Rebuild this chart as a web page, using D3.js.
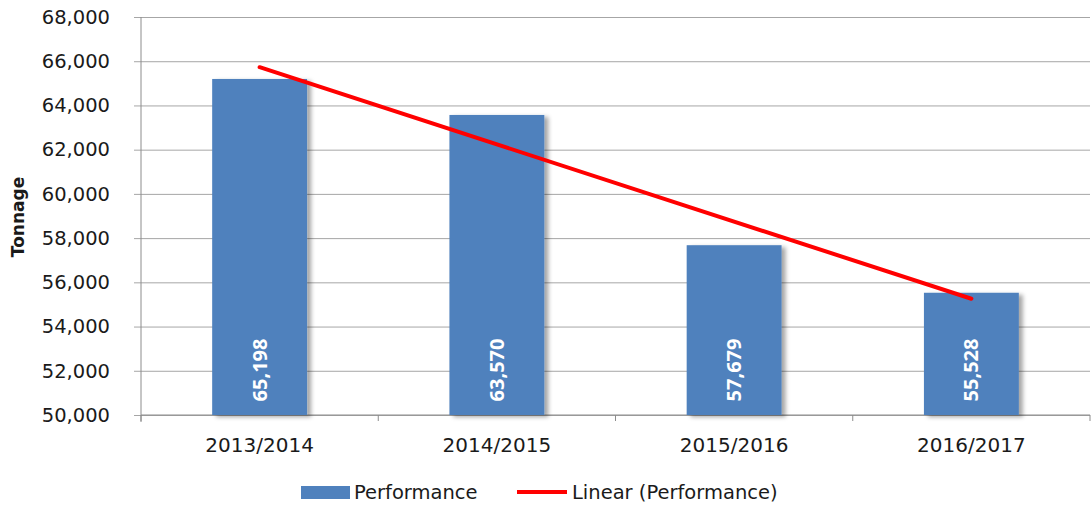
<!DOCTYPE html>
<html>
<head>
<meta charset="utf-8">
<script src="https://cdn.jsdelivr.net/npm/d3@7"></script>
<style>
  body { margin: 0; background: #fff; }
  text { font-family: "DejaVu Sans", sans-serif; fill: #1a1a1a; }
</style>
</head>
<body>
<div id="chart"></div>
<script>
// data
const years = ["2013/2014", "2014/2015", "2015/2016", "2016/2017"];
const performance = [65198, 63570, 57679, 55528];
const yTicks = [50000, 52000, 54000, 56000, 58000, 60000, 62000, 64000, 66000, 68000];

const W = 1092, H = 506;
const margin = {top: 17, right: 2, bottom: 91, left: 141};
const width = W - margin.left - margin.right;
const height = H - margin.top - margin.bottom;

const svg = d3.select("#chart")
    .append("svg")
        .attr("width", W)
        .attr("height", H);

// soft shadow like the office chart bars
const defs = svg.append("defs");
const f = defs.append("filter").attr("id", "shadow")
    .attr("x", "-10%").attr("y", "-10%").attr("width", "130%").attr("height", "130%");
f.append("feDropShadow")
    .attr("dx", 4).attr("dy", 2).attr("stdDeviation", 2)
    .attr("flood-color", "#000").attr("flood-opacity", 0.35);

const g = svg.append("g")
    .attr("transform", `translate(${margin.left},${margin.top})`);

const x = d3.scaleBand()
    .domain(years)
    .range([0, width])
    .paddingInner(0.6)
    .paddingOuter(0.3);

const y = d3.scaleLinear()
    .domain([50000, 68000])
    .range([height, 0]);

// grid lines + y axis
g.append("g")
    .call(d3.axisLeft(y).tickValues(yTicks).tickSize(-width - 7).tickFormat(d3.format(",")))
    .call((ax) => ax.select(".domain").remove())
    .call((ax) => ax.selectAll(".tick line")
        .attr("x1", -7)
        .attr("x2", width)
        .attr("stroke", "#a6a6a6"))
    .call((ax) => ax.selectAll(".tick text")
        .attr("x", -31)
        .attr("font-size", 19.5)
        .attr("font-family", "DejaVu Sans"));

g.append("line")
    .attr("x1", 0).attr("x2", 0)
    .attr("y1", 0).attr("y2", height + 7)
    .attr("stroke", "#8c8c8c");

// bottom axis with ticks between categories
const xb = g.append("g").attr("transform", `translate(0,${height})`);
xb.append("line")
    .attr("x1", 0).attr("x2", width)
    .attr("stroke", "#8c8c8c");
const step = width / years.length;
xb.selectAll(".sep")
    .data(d3.range(years.length + 1))
    .join("line")
        .attr("x1", (i) => i * step).attr("x2", (i) => i * step)
        .attr("y1", 0).attr("y2", 6)
        .attr("stroke", "#8c8c8c");
xb.selectAll(".lbl")
    .data(years)
    .join("text")
        .attr("x", (d) => x(d) + x.bandwidth() / 2)
        .attr("y", 37)
        .attr("text-anchor", "middle")
        .attr("font-size", 20)
        .text((d) => d);

// bars
const bars = g.selectAll(".bar")
    .data(years.map((d, i) => ({year: d, value: performance[i]})))
    .join("g");

bars.append("rect")
    .attr("x", (d) => x(d.year))
    .attr("width", x.bandwidth())
    .attr("y", (d) => y(d.value))
    .attr("height", (d) => y(50000) - y(d.value))
    .attr("fill", "#4f81bd")
    .attr("filter", "url(#shadow)");

bars.append("text")
    .attr("transform", (d) => `translate(${x(d.year) + x.bandwidth() / 2 + 7},${height - 45}) rotate(-90)`)
    .attr("text-anchor", "middle")
    .attr("font-weight", "bold")
    .attr("font-size", 20)
    .style("font-family", "'Open Sans', sans-serif")
    .style("fill", "#fff")
    .text((d) => d3.format(",")(d.value));

// linear trend (least squares on the bar values)
const n = performance.length;
const xs = d3.range(1, n + 1);
const mx = d3.mean(xs), my = d3.mean(performance);
const slope = d3.sum(xs, (v, i) => (v - mx) * (performance[i] - my)) / d3.sum(xs, (v) => (v - mx) ** 2);
const trend = xs.map((v) => my + slope * (v - mx));

g.append("path")
    .datum([0, n - 1])
    .attr("fill", "none")
    .attr("stroke", "#ff0000")
    .attr("stroke-width", 4)
    .attr("stroke-linecap", "round")
    .attr("d", d3.line()
        .x((i) => x(years[i]) + x.bandwidth() / 2)
        .y((i) => y(trend[i])));

// legend
const lg = svg.append("g").attr("transform", "translate(0,492)");
lg.append("rect")
    .attr("x", 301).attr("y", -6)
    .attr("width", 49).attr("height", 13)
    .attr("fill", "#4f81bd");
lg.append("text")
    .attr("x", 354).attr("y", 0)
    .attr("dy", "0.35em")
    .attr("font-size", 19.5)
    .text("Performance");
lg.append("line")
    .attr("x1", 517).attr("x2", 567)
    .attr("stroke", "#ff0000")
    .attr("stroke-width", 4);
lg.append("text")
    .attr("x", 572).attr("y", 0)
    .attr("dy", "0.35em")
    .attr("font-size", 19.5)
    .text("Linear (Performance)");

// y title
svg.append("text")
    .attr("transform", `translate(24,${margin.top + height / 2 + 1}) rotate(-90)`)
    .attr("text-anchor", "middle")
    .attr("font-weight", "bold")
    .attr("font-size", 17)
    .text("Tonnage");
</script>
</body>
</html>
